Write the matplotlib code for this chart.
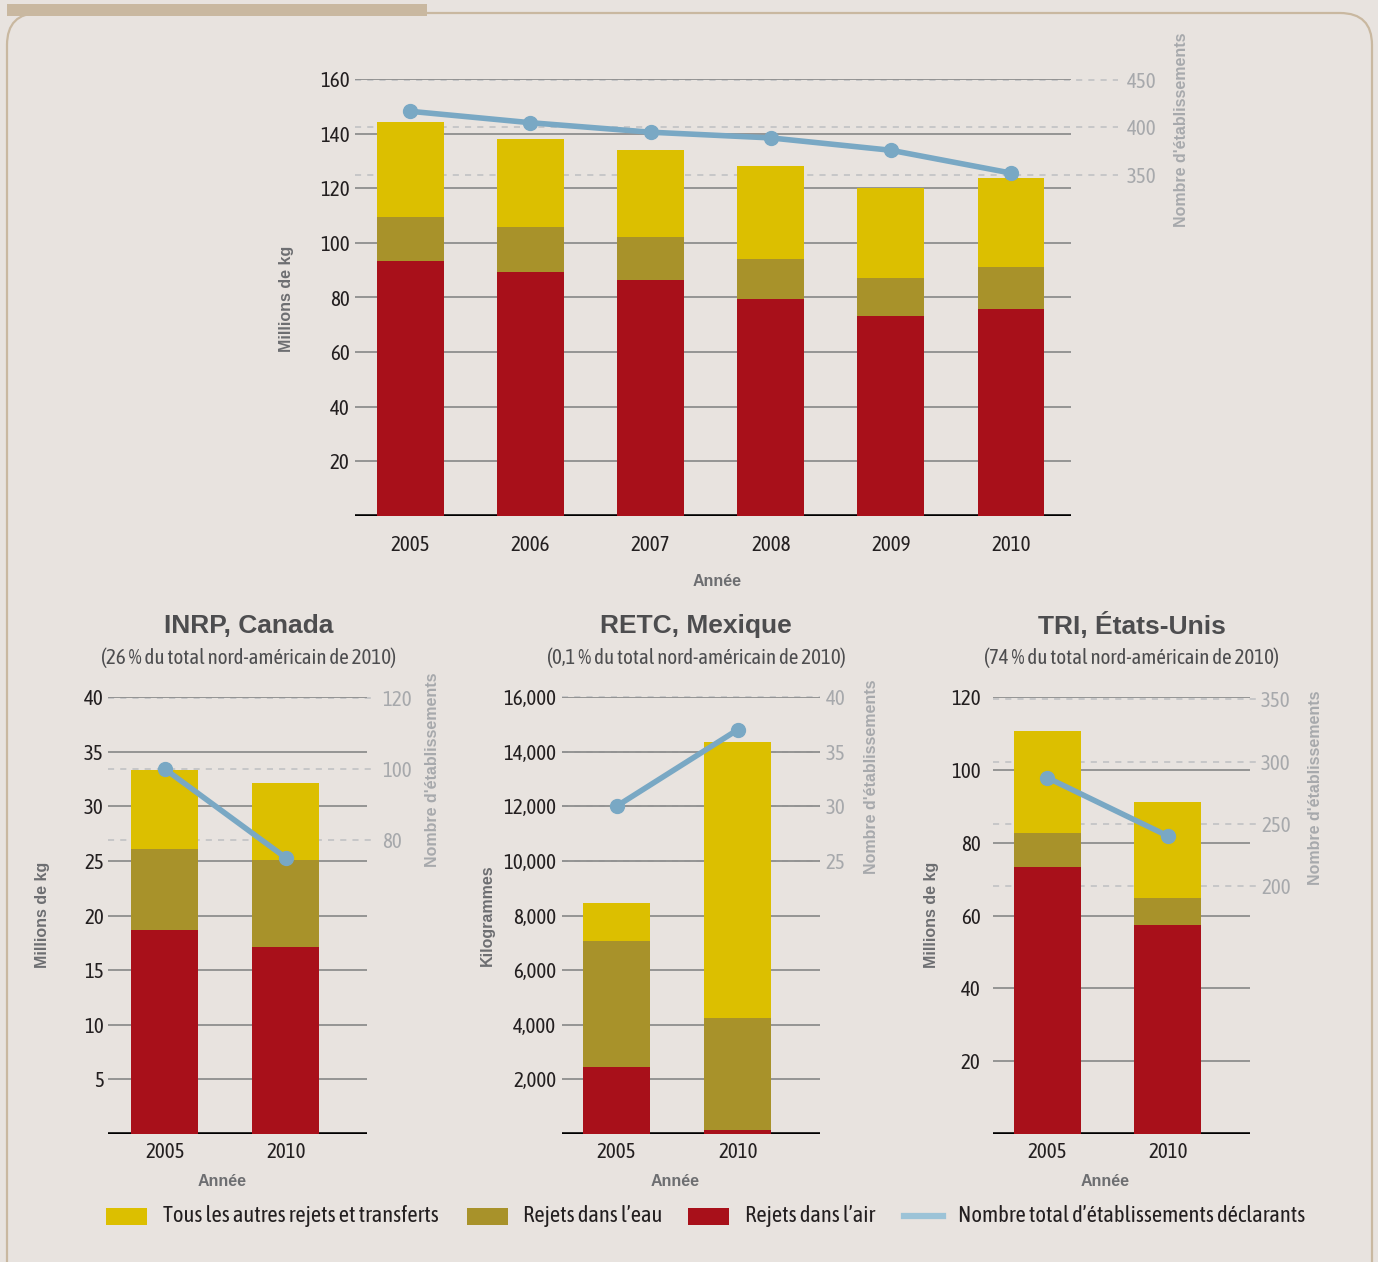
import numpy as np
import matplotlib
matplotlib.use("Agg")
import matplotlib.pyplot as plt
from matplotlib import font_manager
from matplotlib.font_manager import FontProperties
from matplotlib.patches import Rectangle, FancyBboxPatch
from matplotlib.lines import Line2D
from matplotlib.ticker import FuncFormatter

# ---------------------------------------------------------------- data
years_all = ["2005", "2006", "2007", "2008", "2009", "2010"]
na_air = [93.5, 89.4, 86.5, 79.5, 73.3, 75.9]
na_water = [16.1, 16.5, 15.8, 14.7, 13.9, 15.4]
na_other = [34.8, 32.3, 31.8, 34.1, 33.0, 32.6]
na_facilities = [417, 405, 395, 389, 376, 352]

years_pair = ["2005", "2010"]
ca_air = [18.7, 17.1]
ca_water = [7.4, 8.0]
ca_other = [7.2, 7.0]
ca_facilities = [100, 75]

mx_air = [2450, 150]
mx_water = [4600, 4090]
mx_other = [1390, 10120]
mx_facilities = [30, 37]

us_air = [73.4, 57.3]
us_water = [9.3, 7.4]
us_other = [28.0, 26.5]
us_facilities = [287, 240]

panel_titles = ["INRP, Canada", "RETC, Mexique", "TRI, États-Unis"]
panel_subtitles = ["(26 % du total nord-américain de 2010)",
                   "(0,1 % du total nord-américain de 2010)",
                   "(74 % du total nord-américain de 2010)"]
legend_labels = ["Tous les autres rejets et transferts", "Rejets dans l’eau",
                 "Rejets dans l’air", "Nombre total d’établissements déclarants"]
x_label = "Année"
left_label_kg = "Millions de kg"
left_label_mx = "Kilogrammes"
right_label = "Nombre d'établissements"

# ---------------------------------------------------------------- style
W, H = 1378, 1262
BG = "#E8E3DF"
TAN = "#C9B8A0"
YELLOW = "#DCBF00"
OLIVE = "#A8922A"
RED = "#A8101A"
BLUE = "#79A8C4"
GRID = "#8E8E8E"
DASH = "#BDBFC2"
DARK = "#231F20"
LABEL_GREY = "#6D6E71"
LIGHT_GREY = "#A7A9AC"
TITLE_GREY = "#4D4D4F"


# pick a narrow face for numbers and body text
def find_narrow():
    entries = font_manager.fontManager.ttflist
    for f in entries:
        if f.name == "Liberation Sans Narrow" and f.weight in (400, "normal", "regular") \
                and f.style == "normal":
            return f.fname, 1.0
    for f in entries:
        if "Condensed" in f.name and f.style == "normal" and f.weight in (400, "normal", "regular"):
            return f.fname, 1.0
    for f in entries:
        if f.stretch in ("condensed", "semi-condensed") and f.style == "normal" \
                and f.weight in (400, "normal", "regular"):
            return f.fname, 0.95
    return None, 0.9


NARROW_FILE, NARROW_SCALE = find_narrow()


def narrow(size):
    if NARROW_FILE:
        return FontProperties(fname=NARROW_FILE, size=size * NARROW_SCALE)
    return FontProperties(family="Liberation Sans", size=size * NARROW_SCALE)


BOLD_FAM = ["Liberation Sans", "DejaVu Sans"]

fig = plt.figure(figsize=(W / 100, H / 100), dpi=100)
fig.patch.set_facecolor(BG)


def fx(x):
    return x / W


def fy(y):
    return 1 - y / H


# background frame drawn in pixel units
bg = fig.add_axes([0, 0, 1, 1], zorder=-10)
bg.set_xlim(0, W)
bg.set_ylim(H, 0)
bg.axis("off")
bg.add_patch(FancyBboxPatch((7, 13), 1365, 1290, boxstyle="round,pad=0,rounding_size=32",
                            fill=False, edgecolor=TAN, lw=1.6))
bg.add_patch(Rectangle((7, 4), 420, 12, color=TAN, lw=0))


def draw_panel(px_box, cats, air, water, other, fac, ylim, yticks, fmt,
               rlim, rticks, xlim, lpad, rpad, dash_ext, tick_y):
    x0, y0, x1, y1 = px_box
    ax = fig.add_axes([fx(x0), fy(y1), (x1 - x0) / W, (y1 - y0) / H])
    ax.set_facecolor("none")
    x = np.arange(len(cats))
    air = np.asarray(air, float)
    water = np.asarray(water, float)
    other = np.asarray(other, float)
    ax.set_xlim(xlim)
    ax.set_ylim(ylim)

    # solid guides on the left scale
    for t in yticks:
        ax.axhline(t, color=GRID, lw=1.3, zorder=1)
    # dashed guides for the right scale, expressed on the left scale
    for r in rticks:
        yv = ylim[0] + (r - rlim[0]) / (rlim[1] - rlim[0]) * (ylim[1] - ylim[0])
        ax.plot([0, 1 + dash_ext], [yv, yv], transform=ax.get_yaxis_transform(),
                ls=(0, (4, 4)), color=DASH, lw=1.1, clip_on=False, zorder=0.5)
    ax.axhline(0, color="black", lw=2.6, zorder=1.5)

    bw = 0.555
    ax.bar(x, air, width=bw, color=RED, zorder=2, lw=0)
    ax.bar(x, water, width=bw, bottom=air, color=OLIVE, zorder=2, lw=0)
    ax.bar(x, other, width=bw, bottom=air + water, color=YELLOW, zorder=2, lw=0)

    for s in ax.spines.values():
        s.set_visible(False)
    ax.set_yticks(yticks)
    ax.yaxis.set_major_formatter(FuncFormatter(fmt))
    ax.set_xticks([])
    ax.tick_params(axis="y", length=0, pad=lpad, labelcolor=DARK)
    for lab in ax.get_yticklabels():
        lab.set_fontproperties(narrow(15))
    # category labels under the baseline
    for xi, c in zip(x, cats):
        ax.text(xi, -(tick_y - y1) / (y1 - y0), c, transform=ax.get_xaxis_transform(),
                ha="center", va="center", color=DARK, fontproperties=narrow(15))

    ax2 = ax.twinx()
    ax2.set_ylim(rlim)
    ax2.set_yticks(rticks)
    for s in ax2.spines.values():
        s.set_visible(False)
    ax2.tick_params(axis="y", length=0, pad=rpad, labelcolor=LIGHT_GREY)
    for lab in ax2.get_yticklabels():
        lab.set_fontproperties(narrow(15))
    ax2.plot(x, fac, color=BLUE, lw=4, marker="o", ms=10, zorder=5, solid_capstyle="round")
    return ax


int_fmt = lambda v, p: f"{v:.0f}"
comma_fmt = lambda v, p: f"{v:,.0f}"

# top chart: North America overall
draw_panel((355, 79, 1071, 516), years_all, na_air, na_water, na_other, na_facilities,
           (0, 160), [20, 40, 60, 80, 100, 120, 140, 160], int_fmt,
           (-9, 451), [350, 400, 450], (-0.46, 5.5), 4, 40, 0.066, 545)

# bottom charts
draw_panel((108, 697, 367, 1134), years_pair, ca_air, ca_water, ca_other, ca_facilities,
           (0, 40), [5, 10, 15, 20, 25, 30, 35, 40], int_fmt,
           (-2.8, 120.3), [80, 100, 120], (-0.47, 1.67), 3, 11, 0.03, 1152)
draw_panel((562, 697, 820, 1134), years_pair, mx_air, mx_water, mx_other, mx_facilities,
           (0, 16000), [2000, 4000, 6000, 8000, 10000, 12000, 14000, 16000], comma_fmt,
           (0, 40), [25, 30, 35, 40], (-0.45, 1.68), 4, 4, 0.0, 1152)
draw_panel((993, 697, 1250, 1134), years_pair, us_air, us_water, us_other, us_facilities,
           (0, 120), [20, 40, 60, 80, 100, 120], int_fmt,
           (0, 352), [200, 250, 300, 350], (-0.45, 1.68), 9, 8, 0.04, 1152)


# axis titles
def vlabel(x, y, s, color):
    fig.text(fx(x), fy(y), s, rotation=90, ha="center", va="center", fontsize=11.5,
             fontweight="bold", color=color, family=BOLD_FAM)


vlabel(287, 299, left_label_kg, LABEL_GREY)
vlabel(42, 915, left_label_kg, LABEL_GREY)
vlabel(487, 915, left_label_mx, LABEL_GREY)
vlabel(931, 915, left_label_kg, LABEL_GREY)
vlabel(1182, 130, right_label, LIGHT_GREY)
vlabel(433, 770, right_label, LIGHT_GREY)
vlabel(872, 777, right_label, LIGHT_GREY)
vlabel(1316, 788, right_label, LIGHT_GREY)

for xx, yy in [(717, 581), (222, 1181), (675, 1181), (1105, 1181)]:
    fig.text(fx(xx), fy(yy), x_label, ha="center", va="center", fontsize=11.5,
             fontweight="bold", color=LABEL_GREY, family=BOLD_FAM)

for xc, t, st in zip([249, 696, 1132], panel_titles, panel_subtitles):
    fig.text(fx(xc), fy(626), t, ha="center", va="center", fontsize=19,
             fontweight="bold", color=TITLE_GREY, family=BOLD_FAM)
    fig.text(fx(xc), fy(658), st, ha="center", va="center", color=TITLE_GREY,
             fontproperties=narrow(15))

# legend along the bottom
leg_colors = [YELLOW, OLIVE, RED, "#9CC3D7"]
leg_x = [106, 467, 688, 904]
leg_text_x = [163, 523, 745, 958]
for i, (lab, col) in enumerate(zip(legend_labels, leg_colors)):
    if i < 3:
        bg.add_patch(Rectangle((leg_x[i], 1208), 41, 17, color=col, lw=0))
    else:
        bg.add_line(Line2D([leg_x[i], leg_x[i] + 39], [1216, 1216], color=col, lw=4.5))
    fig.text(fx(leg_text_x[i]), fy(1216), lab, ha="left", va="center", color=DARK,
             fontproperties=narrow(16.2))

fig.savefig("out.png", dpi=100, facecolor=BG)
